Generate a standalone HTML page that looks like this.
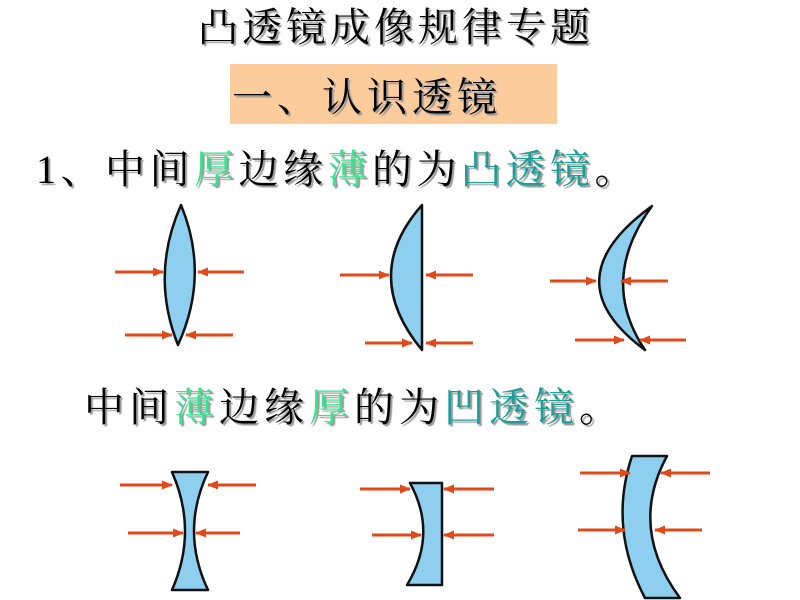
<!DOCTYPE html>
<html><head><meta charset="utf-8"><style>
body{margin:0;width:800px;height:600px;background:#fff;position:relative;overflow:hidden;font-family:"Liberation Serif","Noto Serif CJK SC","Noto Sans CJK SC",serif;}
.t{position:absolute;white-space:nowrap;color:#000;text-shadow:2px 2px 1px #999;line-height:1;}
.g{color:#33e58c}.c{color:#1a9e98}
svg{position:absolute;left:0;top:0}
</style></head><body>
<div style="position:absolute;left:230px;top:64px;width:327px;height:60px;background:#fdcc9c"></div>
<div class="t" style="left:198px;top:8px;font-size:40px;letter-spacing:4px">凸透镜成像规律专题</div>
<div class="t" style="left:232px;top:78px;font-size:40px;letter-spacing:5px">一、认识透镜</div>
<div class="t" style="left:36px;top:150px;font-size:40px;letter-spacing:4.5px">1、中间<span class="g">厚</span>边缘<span class="g">薄</span>的为<span class="c">凸透镜</span>。</div>
<div class="t" style="left:84px;top:388px;font-size:40px;letter-spacing:5px">中间<span class="g">薄</span>边缘<span class="g">厚</span>的为<span class="c">凹透镜</span>。</div>
<svg width="800" height="600" viewBox="0 0 800 600">
<defs><marker id="a" markerWidth="11" markerHeight="9" refX="10" refY="4.5" orient="auto" markerUnits="userSpaceOnUse"><path d="M0,0 L11,4.5 L0,9 Z" fill="#e04a1a"/></marker></defs>
<g fill="#8ecfef" stroke="#111" stroke-width="2.5" stroke-linejoin="round">
<path d="M181,205 Q150,275 178,345 Q210,275 181,205 Z"/>
<path d="M422,205 Q360,275 422,350 Z"/>
<path d="M652,206 Q550,280 645,350 Q598,280 652,206 Z"/>
<path d="M172,472 L208,472 Q180,531 208,590 L172,590 Q198,531 172,472 Z"/>
<path d="M410,483 L442,483 L442,585 L407,585 Q438,534 410,483 Z"/>
<path d="M632,456 L667,456 Q628,528 680,598 L645,598 Q608,528 632,456 Z"/>
</g>
<g stroke="#e04a1a" stroke-width="3" marker-end="url(#a)">
<line x1="115" y1="272" x2="163" y2="272"/><line x1="244" y1="272" x2="198" y2="272"/>
<line x1="125" y1="335" x2="172" y2="335"/><line x1="233" y1="335" x2="186" y2="335"/>
<line x1="340" y1="275" x2="389" y2="275"/><line x1="473" y1="275" x2="426" y2="275"/>
<line x1="365" y1="343" x2="412" y2="343"/><line x1="473" y1="343" x2="426" y2="343"/>
<line x1="550" y1="281" x2="596" y2="281"/><line x1="668" y1="281" x2="621" y2="281"/>
<line x1="575" y1="340" x2="624" y2="340"/><line x1="686" y1="340" x2="640" y2="340"/>
<line x1="120" y1="485" x2="172" y2="485"/><line x1="256" y1="485" x2="208" y2="485"/>
<line x1="128" y1="533" x2="183" y2="533"/><line x1="240" y1="533" x2="196" y2="533"/>
<line x1="360" y1="489" x2="410" y2="489"/><line x1="494" y1="489" x2="444" y2="489"/>
<line x1="372" y1="535" x2="421" y2="535"/><line x1="494" y1="535" x2="444" y2="535"/>
<line x1="580" y1="473" x2="630" y2="473"/><line x1="710" y1="473" x2="661" y2="473"/>
<line x1="578" y1="530" x2="625" y2="530"/><line x1="702" y1="530" x2="655" y2="530"/>
</g>
</svg>
</body></html>
